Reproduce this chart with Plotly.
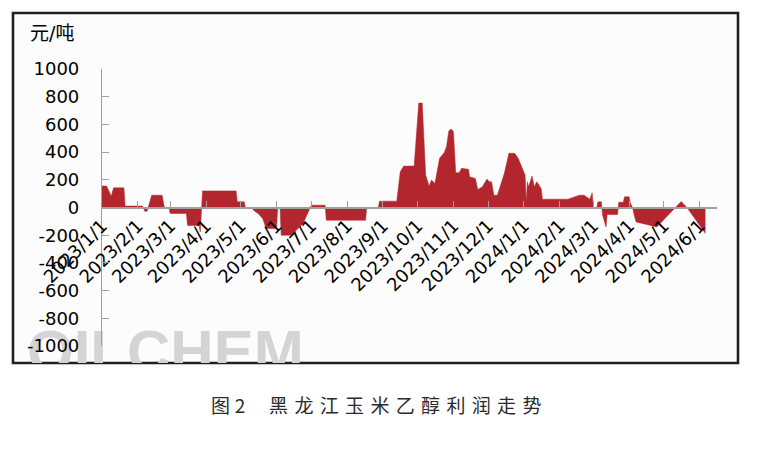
import plotly.graph_objects as go

# ---------------- data ----------------
dates = [
    "2023-01-01", "2023-01-05", "2023-01-09", "2023-01-11", "2023-01-20", "2023-01-21",
    "2023-02-05", "2023-02-07", "2023-02-09", "2023-02-13", "2023-02-22", "2023-02-24",
    "2023-02-28", "2023-03-01", "2023-03-15", "2023-03-16", "2023-03-26", "2023-03-27",
    "2023-03-29", "2023-04-27", "2023-04-28", "2023-05-04", "2023-05-05", "2023-05-11",
    "2023-05-12", "2023-05-16", "2023-05-20", "2023-05-23", "2023-06-01", "2023-06-02",
    "2023-06-04", "2023-06-05", "2023-06-15", "2023-06-18", "2023-06-24", "2023-06-28",
    "2023-06-30", "2023-07-01", "2023-07-13", "2023-07-14", "2023-08-17", "2023-08-18",
    "2023-08-28", "2023-08-29", "2023-09-13", "2023-09-16", "2023-09-19", "2023-09-28",
    "2023-10-02", "2023-10-05", "2023-10-08", "2023-10-11", "2023-10-13", "2023-10-16",
    "2023-10-20", "2023-10-24", "2023-10-26", "2023-10-28", "2023-10-30", "2023-11-01",
    "2023-11-03", "2023-11-06", "2023-11-08", "2023-11-14", "2023-11-15", "2023-11-20",
    "2023-11-22", "2023-11-26", "2023-11-30", "2023-12-02", "2023-12-04", "2023-12-06",
    "2023-12-09", "2023-12-12", "2023-12-15", "2023-12-19", "2023-12-24", "2023-12-27",
    "2023-12-30", "2024-01-02", "2024-01-03", "2024-01-04", "2024-01-05", "2024-01-08",
    "2024-01-10", "2024-01-12", "2024-01-14", "2024-01-16", "2024-01-17", "2024-02-08",
    "2024-02-18", "2024-02-22", "2024-02-27", "2024-02-29", "2024-03-01", "2024-03-04",
    "2024-03-05", "2024-03-08", "2024-03-09", "2024-03-12", "2024-03-13", "2024-03-22",
    "2024-03-23", "2024-03-27", "2024-03-28", "2024-04-01", "2024-04-02", "2024-04-04",
    "2024-04-05", "2024-04-07", "2024-04-25", "2024-05-11", "2024-05-16", "2024-05-21",
    "2024-06-06",
]
profit = [
    155, 155, 82, 142, 142, 10,
    10, -27, -27, 89, 89, 0,
    0, -43, -43, -130, -130, -177,
    120, 120, 41, 41, 0, 0,
    -20, -43, -80, -152, -152, 0,
    0, -200, -200, -165, -116, -43,
    0, 17, 17, -92, -92, 0,
    0, 46, 46, 258, 299, 299,
    754, 754, 234, 154, 198, 174,
    355, 396, 439, 553, 567, 548,
    251, 251, 283, 276, 222, 210,
    130, 149, 205, 186, 186, 89,
    89, 162, 246, 391, 391, 355,
    294, 234, 41, 186, 149, 227,
    149, 186, 162, 134, 60, 60,
    89, 89, 60, 106, 0, 0,
    41, 41, -56, -140, -51, -51,
    38, 38, 77, 77, 33, 0,
    -43, -104, -140, 0, 43, 0,
    -188,
]

y_tick_vals = [-1000, -800, -600, -400, -200, 0, 200, 400, 600, 800, 1000]
y_tick_text = ["-1000", "-800", "-600", "-400", "-200", "0", "200", "400", "600", "800", "1000"]
x_range = ["2023-01-01", "2024-06-16"]
unit_label = "元/吨"
title_text = "图\u20052\u2003\u2005黑\u2004龙\u2004江\u2004玉\u2004米\u2004乙\u2004醇\u2004利\u2004润\u2004走\u2004势"
watermark_text = "OILCHEM"

# ---------------- layout geometry ----------------
W, H = 762, 449
FL, FT, FR, FB = 13, 13, 738, 363          # frame box (px)
PL, PT, PR, PB = 102, 69, 717, 346         # plot area (px)
pw, ph = FR - FL, FB - FT

def fx(px):
    return (px - FL) / pw

def fy(py):
    return (FB - py) / ph

RED = "#B3262D"
AXIS = "#A0A0A0"
FONT = "DejaVu Sans, Noto Sans CJK SC, sans-serif"

fig = go.Figure()

# watermark (clipped by its own subplot at the frame's bottom edge)
fig.add_trace(go.Scatter(
    x=[fx(27)], y=[(FB - 327) / (FB - 298)], mode="text", text=[watermark_text],
    textposition="bottom right", cliponaxis=True, hoverinfo="skip", showlegend=False,
    textfont=dict(size=60, color="#d4d4d4", family="Liberation Sans", weight="bold"),
    xaxis="x", yaxis="y",
))

# profit area
fig.add_trace(go.Scatter(
    x=dates, y=profit, mode="lines", fill="tozeroy",
    line=dict(color=RED, width=0.5), fillcolor=RED, showlegend=False,
    xaxis="x2", yaxis="y2",
))

ydom = [fy(PB), fy(PT)]
fig.update_layout(
    width=W, height=H,
    margin=dict(l=FL, r=W - FR, t=FT, b=H - FB, pad=0),
    paper_bgcolor="white", plot_bgcolor="rgba(0,0,0,0)",
    showlegend=False,
    xaxis=dict(domain=[0, 1], range=[0, 1], visible=False, fixedrange=True),
    yaxis=dict(domain=[0, fy(298)], range=[0, 1], visible=False, fixedrange=True),
    xaxis2=dict(
        domain=[fx(PL), fx(PR)], type="date", range=x_range,
        anchor="free", position=(ydom[0] + ydom[1]) / 2,
        showline=True, linecolor=AXIS, linewidth=1.5,
        ticks="inside", ticklen=6, tickwidth=1.2, tickcolor=AXIS,
        dtick="M1", tick0="2023-01-01", tickformat="%Y/%-m/%-d", tickangle=-45,
        tickfont=dict(size=18, color="black", family=FONT),
        showgrid=False, zeroline=False, automargin=False,
    ),
    yaxis2=dict(
        domain=ydom, range=[-1000, 1000], anchor="x2",
        showline=True, linecolor=AXIS, linewidth=1.2,
        ticks="inside", ticklen=7, tickwidth=1.2, tickcolor=AXIS,
        tickvals=y_tick_vals, ticktext=y_tick_text, ticklabelstandoff=18,
        tickfont=dict(size=18, color="black", family=FONT),
        showgrid=False, zeroline=False, automargin=False,
    ),
    shapes=[dict(
        type="rect", xref="paper", yref="paper", x0=0, x1=1, y0=0, y1=1,
        line=dict(color="#231f20", width=2.6), fillcolor="#fcfcfc", layer="below",
    )],
    annotations=[
        dict(text=unit_label, xref="paper", yref="paper", x=fx(28), y=fy(33),
             xanchor="left", yanchor="middle", showarrow=False,
             font=dict(size=19, color="black", family=FONT)),
        dict(text=title_text, xref="paper", yref="paper", x=fx(376), y=fy(404),
             xanchor="center", yanchor="middle", showarrow=False,
             font=dict(size=19, color="#2b2b2b", family="Noto Sans CJK SC, DejaVu Sans")),
    ],
)

fig.write_html("out.html", config={"displayModeBar": False},
               post_script="document.body.style.margin='0';")
